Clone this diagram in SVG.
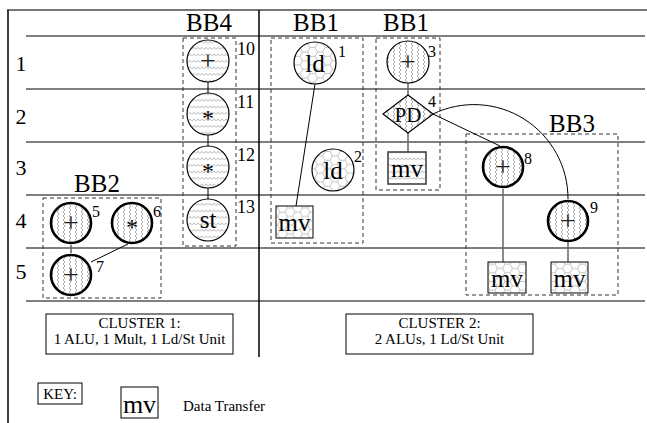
<svg xmlns="http://www.w3.org/2000/svg" width="647" height="423" viewBox="0 0 647 423">
<style>
.t{font-family:"Liberation Serif","Times New Roman",serif;fill:#000}
.lbl{font-size:25px;text-anchor:middle}
.row{font-size:22px;text-anchor:middle}
.num{font-size:16px}
.num2{font-size:18px}
.op{font-size:24px;text-anchor:middle}
.plus{font-size:28px;text-anchor:middle;fill:#222}
.sm{font-size:15px;text-anchor:middle}
.grid{stroke:#000;stroke-width:1.2;fill:none}
.dash{fill:none;stroke:#333;stroke-width:1;stroke-dasharray:4 3}
.thin{stroke:#000;stroke-width:1.2}
.thick{stroke:#000;stroke-width:2.6}
.c{stroke:#000;stroke-width:1;fill:none}
.g{stroke:#666;stroke-width:1.5;fill:none}
.box{fill:#fff;stroke:#000;stroke-width:1}
</style>
<defs>
<pattern id="zh" patternUnits="userSpaceOnUse" width="4" height="6.5">
<rect width="4" height="6.5" fill="#fff"/>
<path d="M0,4 L2,2 L4,4" fill="none" stroke="#999" stroke-width="0.8"/>
</pattern>
<pattern id="zv" patternUnits="userSpaceOnUse" width="6" height="4">
<rect width="6" height="4" fill="#fff"/>
<path d="M3,0 L5,2 L3,4" fill="none" stroke="#999" stroke-width="0.8"/>
</pattern>
<pattern id="hx" patternUnits="userSpaceOnUse" width="15" height="8.66">
<rect width="15" height="8.66" fill="#fff"/>
<path d="M0,4.33 L2.5,0 L7.5,0 L10,4.33 L7.5,8.66 L2.5,8.66 Z M10,4.33 L15,4.33" fill="none" stroke="#aaa" stroke-width="0.7"/>
</pattern>
</defs>

<g id="frame">
<line x1="7" y1="10" x2="647" y2="10" stroke="#777" stroke-width="2"/>
<line x1="8" y1="10" x2="8" y2="423" stroke="#000" stroke-width="1.5"/>
<line x1="259" y1="10" x2="259" y2="357" stroke="#000" stroke-width="1.5"/>
<path class="grid" d="M26,36 H645 M26,89 H645 M26,142 H645 M26,195 H645 M26,248 H645 M26,301 H645"/>
<text class="t row" x="21" y="71">1</text>
<text class="t row" x="21" y="124">2</text>
<text class="t row" x="21" y="175">3</text>
<text class="t row" x="21" y="228">4</text>
<text class="t row" x="21" y="279">5</text>
</g>

<g id="blocks">
<rect class="dash" x="183" y="38" width="53" height="208"/>
<text class="t lbl" x="209" y="31">BB4</text>
<rect class="dash" x="271" y="38" width="92" height="205"/>
<text class="t lbl" x="316" y="31">BB1</text>
<rect class="dash" x="376" y="38" width="64" height="152"/>
<text class="t lbl" x="406" y="31">BB1</text>
<rect class="dash" x="466" y="134" width="152" height="161"/>
<text class="t lbl" x="572" y="132">BB3</text>
<rect class="dash" x="43" y="198" width="118" height="100"/>
<text class="t lbl" x="97" y="192">BB2</text>
</g>

<g id="connectors">
<line class="c" x1="208" y1="82" x2="208" y2="93"/>
<line class="c" x1="208" y1="135" x2="208" y2="146"/>
<line class="c" x1="208" y1="188" x2="208" y2="199"/>
<line class="c" x1="315" y1="84" x2="296" y2="206"/>
<line class="g" x1="408" y1="83" x2="408" y2="95"/>
<line class="g" x1="408" y1="133" x2="408" y2="152"/>
<line class="g" x1="71" y1="245" x2="71" y2="253"/>
<line class="c" x1="128" y1="244" x2="91" y2="262"/>
<line class="c" x1="433" y1="114" x2="500" y2="146"/>
<path class="c" d="M433,114 A94,94 0 0 1 568,199"/>
<line class="g" x1="503" y1="189" x2="503" y2="262"/>
<line class="g" x1="568" y1="242" x2="568" y2="262"/>
</g>

<g id="n10">
<circle class="thin" cx="208" cy="61" r="21" fill="url(#zh)"/>
<text class="t plus" x="208" y="70">+</text>
<text class="t num2" x="237" y="55">10</text>
</g>
<g id="n11">
<circle class="thin" cx="208" cy="114" r="21" fill="url(#zh)"/>
<text class="t op" x="208" y="126">*</text>
<text class="t num2" x="237" y="108">11</text>
</g>
<g id="n12">
<circle class="thin" cx="208" cy="167" r="21" fill="url(#zh)"/>
<text class="t op" x="208" y="179">*</text>
<text class="t num2" x="237" y="161">12</text>
</g>
<g id="n13">
<circle class="thin" cx="208" cy="220" r="21" fill="url(#zh)"/>
<text class="t op" x="208" y="228" style="font-size:25px">st</text>
<text class="t num2" x="237" y="213">13</text>
</g>

<g id="n1">
<circle class="thin" cx="315" cy="63" r="21" fill="url(#hx)"/>
<text class="t op" x="315" y="72" style="font-size:25px">ld</text>
<text class="t num" x="338" y="57">1</text>
</g>
<g id="n2">
<circle class="thin" cx="333" cy="170" r="21" fill="url(#hx)"/>
<text class="t op" x="333" y="179" style="font-size:25px">ld</text>
<text class="t num" x="354" y="162">2</text>
</g>
<g id="mv1">
<rect class="box" x="276" y="206" width="37" height="32" style="fill:url(#hx)"/>
<text class="t op" x="294.5" y="231" style="font-size:25px">mv</text>
</g>

<g id="n3">
<circle class="thin" cx="408" cy="62" r="21" fill="url(#zv)"/>
<text class="t plus" x="408" y="71">+</text>
<text class="t num" x="428" y="57">3</text>
</g>
<g id="n4">
<path class="thin" d="M408,95 L433,114 L408,133 L383,114 Z" fill="url(#zv)"/>
<text class="t op" x="408" y="122" style="font-size:21px">PD</text>
<text class="t num" x="428" y="107">4</text>
</g>
<g id="mv2">
<rect x="388" y="152" width="38" height="32" style="fill:url(#zh);stroke:#444;stroke-width:1.6"/>
<text class="t op" x="407" y="177" style="font-size:25px">mv</text>
</g>

<g id="n5">
<circle class="thick" cx="71" cy="223" r="20" fill="url(#zv)"/>
<text class="t plus" x="71" y="232">+</text>
<text class="t num" x="92" y="217">5</text>
</g>
<g id="n6">
<circle class="thick" cx="132" cy="223" r="20" fill="url(#zv)"/>
<text class="t op" x="132" y="235">*</text>
<text class="t num" x="153" y="217">6</text>
</g>
<g id="n7">
<circle class="thick" cx="71" cy="275" r="20" fill="url(#zv)"/>
<text class="t plus" x="71" y="284">+</text>
<text class="t num" x="96" y="272">7</text>
</g>

<g id="n8">
<circle class="thick" cx="503" cy="167" r="20" fill="url(#zv)"/>
<text class="t plus" x="503" y="176">+</text>
<text class="t num" x="524" y="164">8</text>
</g>
<g id="n9">
<circle class="thick" cx="568" cy="221" r="20" fill="url(#zv)"/>
<text class="t plus" x="568" y="230">+</text>
<text class="t num" x="590" y="213">9</text>
</g>
<g id="mv3">
<rect class="box" x="488" y="262" width="38" height="31" style="fill:url(#hx)"/>
<text class="t op" x="507" y="287" style="font-size:25px">mv</text>
</g>
<g id="mv4">
<rect class="box" x="551" y="262" width="37" height="31" style="fill:url(#hx)"/>
<text class="t op" x="569.5" y="287" style="font-size:25px">mv</text>
</g>

<g id="cluster1">
<rect class="box" x="46" y="314" width="187" height="40"/>
<text class="t sm" x="139.5" y="328">CLUSTER 1:</text>
<text class="t sm" x="139.5" y="344">1 ALU, 1 Mult, 1 Ld/St Unit</text>
</g>
<g id="cluster2">
<rect class="box" x="346" y="314" width="187" height="40"/>
<text class="t sm" x="439.5" y="328">CLUSTER 2:</text>
<text class="t sm" x="439.5" y="344">2 ALUs, 1 Ld/St Unit</text>
</g>

<g id="key">
<rect class="box" x="38" y="383" width="44" height="21"/>
<text class="t" x="60" y="399" style="font-size:15px;text-anchor:middle">KEY:</text>
<rect class="box" x="121" y="387" width="37" height="31"/>
<text class="t" x="139.5" y="413" style="font-size:26px;text-anchor:middle">mv</text>
<text class="t" x="183" y="411" style="font-size:15px">Data Transfer</text>
</g>
</svg>
